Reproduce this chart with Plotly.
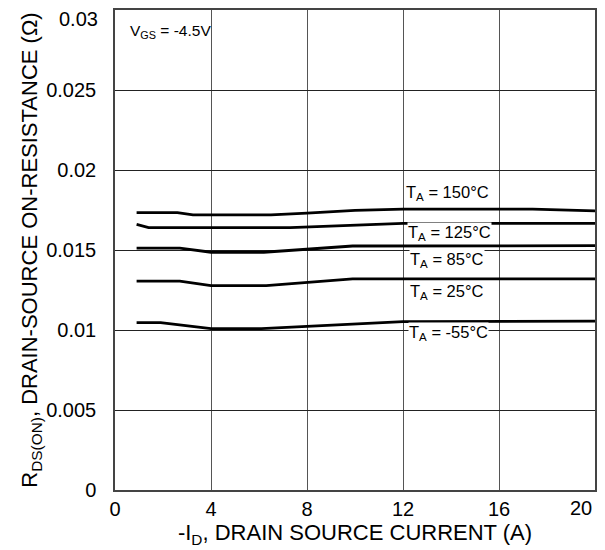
import plotly.graph_objects as go

# Data
id_150 = [0.9, 2.6, 3.25, 6.5, 8.0, 10.0, 12.0, 17.4, 20.0]
r_150 = [0.01733, 0.01733, 0.01720, 0.01720, 0.01731, 0.01748, 0.01756, 0.01756, 0.01744]

id_125 = [0.9, 1.4, 7.3, 12.0, 20.0]
r_125 = [0.01660, 0.01640, 0.01640, 0.01667, 0.01667]

id_85 = [0.9, 2.7, 4.0, 6.2, 9.9, 20.0]
r_85 = [0.01512, 0.01512, 0.01486, 0.01486, 0.01525, 0.01527]

id_25 = [0.9, 2.7, 4.0, 6.3, 9.9, 20.0]
r_25 = [0.01306, 0.01306, 0.01277, 0.01277, 0.01319, 0.01319]

id_m55 = [0.9, 1.9, 4.0, 6.1, 12.0, 20.0]
r_m55 = [0.01046, 0.01046, 0.01008, 0.01008, 0.01052, 0.01056]

series = [
    ("T<sub>A</sub> = 150°C", id_150, r_150, 13.85, 0.01856),
    ("T<sub>A</sub> = 125°C", id_125, r_125, 13.95, 0.01604),
    ("T<sub>A</sub> = 85°C", id_85, r_85, 13.85, 0.01437),
    ("T<sub>A</sub> = 25°C", id_25, r_25, 13.85, 0.01240),
    ("T<sub>A</sub> = -55°C", id_m55, r_m55, 13.9, 0.00979),
]

x_ticks = [0, 4, 8, 12, 16, 20]
x_tick_text = ["0", "4", "8", "12", "16", "20"]
y_ticks = [0, 0.005, 0.01, 0.015, 0.02, 0.025, 0.03]
y_tick_text = ["0", "0.005", "0.01", "0.015", "0.02", "0.025", "0.03"]

FONT = "Liberation Sans, Arial, sans-serif"

fig = go.Figure()
for name, xs, ys, lx, ly in series:
    fig.add_trace(go.Scatter(x=xs, y=ys, mode="lines", name=name,
                             line=dict(color="black", width=2.8),
                             showlegend=False, hoverinfo="skip"))

annotations = []
for name, xs, ys, lx, ly in series:
    annotations.append(dict(x=lx, y=ly, xref="x", yref="y", text=name,
                            showarrow=False, bgcolor="white",
                            font=dict(size=16.5, color="black", family=FONT),
                            borderpad=0))
annotations.append(dict(x=0.55, y=0.02865, xref="x", yref="y",
                        text="V<sub>GS</sub> = -4.5V", showarrow=False,
                        xanchor="left", font=dict(size=15.5, color="black", family=FONT)))
# end tick labels, nudged inside the page like in the reference
annotations.append(dict(x=0, y=y_ticks[-1], xref="paper", yref="y",
                        text=y_tick_text[-1], showarrow=False,
                        xanchor="right", yanchor="middle", xshift=-15, yshift=-9,
                        font=dict(size=20, color="black", family=FONT)))
annotations.append(dict(x=x_ticks[-1], y=0, xref="x", yref="paper",
                        text=x_tick_text[-1], showarrow=False,
                        xanchor="right", yanchor="middle", xshift=-1, yshift=-18,
                        font=dict(size=20, color="black", family=FONT)))

# page body has an 8px margin: figure is offset so the plot sits where the reference has it
fig.update_layout(
    width=589, height=541,
    margin=dict(l=107, r=2, t=2, b=59, autoexpand=False),
    paper_bgcolor="white", plot_bgcolor="white",
    font=dict(family=FONT, color="black", size=20),
    annotations=annotations,
    xaxis=dict(range=[0, 20], tickvals=x_ticks[:-1], ticktext=x_tick_text[:-1],
               showgrid=True, automargin=False,
               gridcolor="#555555", gridwidth=1, zeroline=False,
               showline=True, linecolor="#444444", linewidth=1.5, mirror=True,
               ticks="", ticklabelstandoff=0, tickfont=dict(size=20),
               title=dict(text="-I<sub>D</sub>, DRAIN SOURCE CURRENT (A)",
                          font=dict(size=22), standoff=6)),
    yaxis=dict(range=[0, 0.03], tickvals=y_ticks[:-1], ticktext=y_tick_text[:-1],
               showgrid=True, automargin=False,
               gridcolor="#222222", gridwidth=1, zeroline=False,
               showline=True, linecolor="#444444", linewidth=1.5, mirror=True,
               ticks="", ticklabelstandoff=13, tickfont=dict(size=20),
               title=dict(text="R<sub>DS(ON)</sub>, DRAIN-SOURCE ON-RESISTANCE (Ω)",
                          font=dict(size=22), standoff=2)),
)

fig.write_html("out.html")
